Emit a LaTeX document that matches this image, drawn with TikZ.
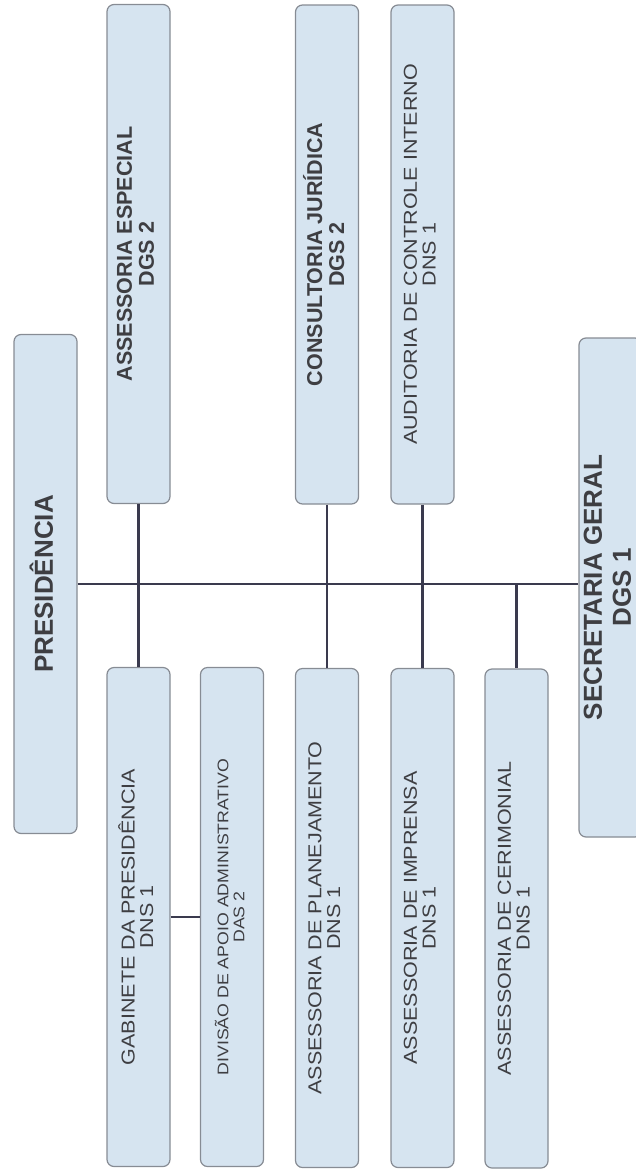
\documentclass[tikz,border=0pt]{standalone}
\usepackage{fontspec}
\setmainfont{Liberation Sans}
\newfontfamily\unitface[FakeStretch=1.15]{Liberation Sans}
\usepackage{graphicx}
\definecolor{boxfill}{RGB}{214,228,240}
\definecolor{boxline}{RGB}{135,140,148}
\definecolor{linkcolor}{RGB}{58,58,78}
\definecolor{labelgray}{RGB}{62,62,66}
\newcommand{\vlabel}[1]{\rotatebox{90}{\begin{tabular}{@{}c@{}}#1\end{tabular}}}
\tikzset{
    orgbox/.style={draw=boxline, fill=boxfill, line width=1.2pt, rounded corners=7pt,
            minimum width=63pt, minimum height=499pt, inner sep=0pt, text=labelgray},
    headfont/.style={font=\fontsize{26}{29}\selectfont\bfseries},
    chieffont/.style={font=\fontsize{21.5}{22}\selectfont\bfseries},
    unitfont/.style={font=\unitface\fontsize{18.7}{18.5}\selectfont},
    smallfont/.style={font=\unitface\fontsize{15.4}{16}\selectfont},
    link/.style={draw=linkcolor, line width=2.4pt},
}

\begin{document}
\begin{tikzpicture}[x=1pt, y=-1pt]
        %page frame
        \useasboundingbox (0,0) rectangle (636,1173);
        \clip (0,0) rectangle (636,1173);
        %draw top level boxes
        \node[orgbox, headfont] (pres) at (45.5,584) {\vlabel{PRESIDÊNCIA}};
        \node[orgbox, headfont] (secg) at (610.5,587.5) {\vlabel{SECRETARIA GERAL\\DGS 1}};
        %draw upper boxes
        \node[orgbox, chieffont] (asses) at (138.5,254) {\vlabel{ASSESSORIA ESPECIAL\\DGS 2}};
        \node[orgbox, chieffont] (consul) at (327,254.5) {\vlabel{CONSULTORIA JURÍDICA\\DGS 2}};
        \node[orgbox, unitfont] (audit) at (422.5,254.5) {\vlabel{AUDITORIA DE CONTROLE INTERNO\\DNS 1}};
        %draw lower boxes
        \node[orgbox, unitfont] (gab) at (138.5,917) {\vlabel{GABINETE DA PRESIDÊNCIA\\DNS 1}};
        \node[orgbox, smallfont] (div) at (232,917) {\vlabel{DIVISÃO DE APOIO ADMINISTRATIVO\\DAS 2}};
        \node[orgbox, unitfont] (plan) at (327,918) {\vlabel{ASSESSORIA DE PLANEJAMENTO\\DNS 1}};
        \node[orgbox, unitfont] (impr) at (422.5,918) {\vlabel{ASSESSORIA DE IMPRENSA\\DNS 1}};
        \node[orgbox, unitfont] (cer) at (516.5,918.5) {\vlabel{ASSESSORIA DE CERIMONIAL\\DNS 1}};
        %draw connectors
        \draw[link] (pres.east) -- (pres.east -| secg.west);
        \draw[link] (asses.south) -- (gab.north);
        \draw[link] (consul.south) -- (plan.north);
        \draw[link] (audit.south) -- (impr.north);
        \draw[link] (cer.north |- pres.east) -- (cer.north);
        \draw[link] (gab.east) -- (div.west);
    \end{tikzpicture}
\end{document}
